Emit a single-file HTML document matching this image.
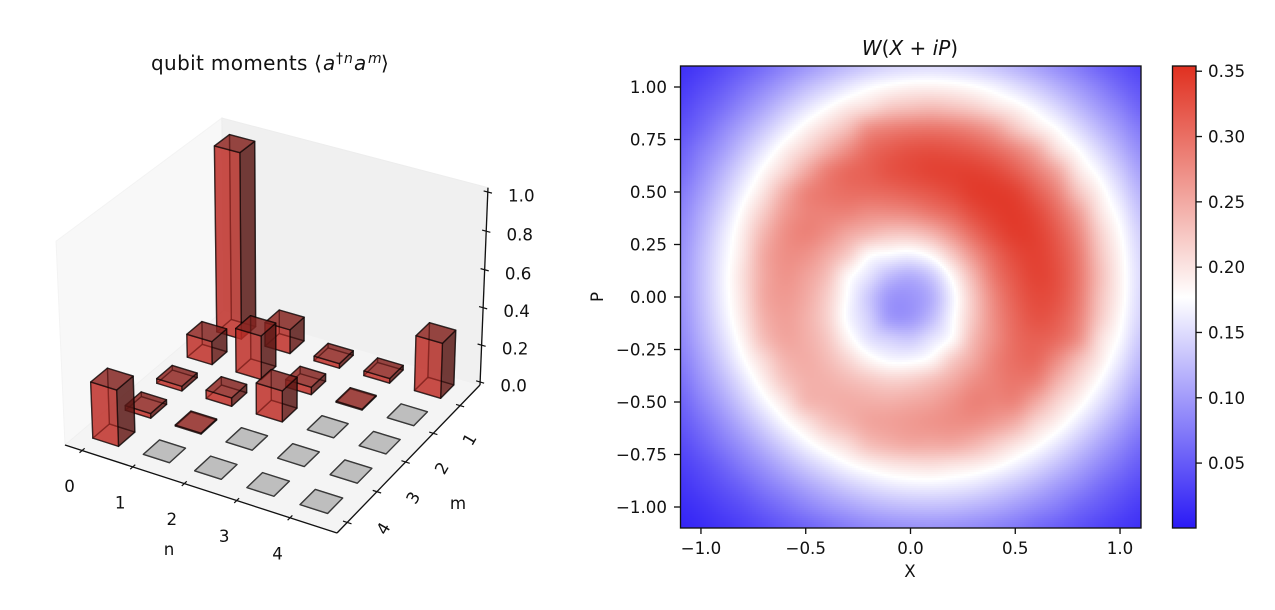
<!DOCTYPE html>
<html>
<head>
<meta charset="utf-8">
<title>Qubit moments and Wigner function</title>
<style>
html,body{margin:0;padding:0;background:#fff;}
#fig{position:absolute;left:0;top:0;display:block;}
text{font-family:"DejaVu Sans","Liberation Sans",sans-serif;font-size:16.67px;fill:#111;}
</style>
</head>
<body>
<svg id="fig" width="1275" height="610" viewBox="0 0 1275 610" xmlns="http://www.w3.org/2000/svg">
  <defs>
    <linearGradient id="cbGrad" x1="0" y1="1" x2="0" y2="0">
      <stop id="cbLow" offset="0" stop-color="rgb(42,26,245)"/>
      <stop id="cbMid" offset="0.5" stop-color="#fff"/>
      <stop id="cbHigh" offset="1" stop-color="rgb(224,48,32)"/>
    </linearGradient>
  </defs>
  <text y="70" style="font-size:20px"><tspan x="151" letter-spacing="0.35">qubit moments</tspan><tspan x="314">⟨</tspan><tspan x="323" font-style="italic">a</tspan><tspan x="336" dy="-7" style="font-size:14px">†</tspan><tspan x="344" font-style="italic" style="font-size:14px">n</tspan><tspan x="354" dy="7" font-style="italic">a</tspan><tspan x="368" dy="-7" font-style="italic" style="font-size:14px">m</tspan><tspan x="381" dy="7">⟩</tspan></text>
  <g id="plot3d"></g>
  <text x="169" y="555" text-anchor="middle">n</text>
  <text x="458" y="509" text-anchor="middle">m</text>
  <text x="910" y="55" text-anchor="middle" style="font-size:20px"><tspan font-style="italic">W</tspan>(<tspan font-style="italic">X</tspan> + <tspan font-style="italic">iP</tspan>)</text>
  <g id="heat" shape-rendering="crispEdges"></g>
  <rect x="680.5" y="66" width="460.5" height="462" fill="none" stroke="#111" stroke-width="1.33"/>
  <g id="axes2d"></g>
  <text x="910" y="577" text-anchor="middle">X</text>
  <text x="603" y="297" text-anchor="middle" transform="rotate(-90 603 297)">P</text>
  <rect id="cbRect" x="1172.5" y="66" width="23.5" height="462" fill="url(#cbGrad)" stroke="#111" stroke-width="1.33"/>
  <g id="cbAxis"></g>
</svg>
<script>
// ---------- 3D histogram data ----------
const nLabels = [0, 1, 2, 3, 4];
const mLabels = [0, 1, 2, 3, 4];
const zTicks = [0.0, 0.2, 0.4, 0.6, 0.8, 1.0];
// momentValues[n][m]
const momentValues = [
  [0.995, 0.125, 0.025, 0.025, 0.295],
  [0.130, 0.235, 0.045, 0.005, 0.000],
  [0.025, 0.040, 0.165, 0.000, 0.000],
  [0.025, 0.005, 0.000, 0.000, 0.000],
  [0.295, 0.000, 0.000, 0.000, 0.000]
];
// ---------- Wigner data: rows P from +1.1 down to -1.1, columns X from -1.1 to +1.1 ----------
const xGrid = [-1.1,-1.0,-0.9,-0.8,-0.7,-0.6,-0.5,-0.4,-0.3,-0.2,-0.1,0.0,0.1,0.2,0.3,0.4,0.5,0.6,0.7,0.8,0.9,1.0,1.1];
const pGrid = [1.1,1.0,0.9,0.8,0.7,0.6,0.5,0.4,0.3,0.2,0.1,0.0,-0.1,-0.2,-0.3,-0.4,-0.5,-0.6,-0.7,-0.8,-0.9,-1.0,-1.1];
const wignerValues = [
[.018,.026,.038,.051,.065,.081,.096,.111,.124,.135,.144,.148,.150,.147,.141,.131,.119,.105,.090,.075,.058,.045,.033],
[.025,.037,.051,.068,.086,.105,.125,.142,.159,.173,.182,.188,.189,.186,.179,.168,.153,.136,.117,.098,.079,.060,.045],
[.034,.049,.066,.087,.109,.133,.156,.177,.196,.209,.225,.232,.236,.230,.220,.204,.189,.169,.147,.123,.100,.079,.058],
[.044,.061,.084,.108,.134,.161,.187,.210,.235,.272,.285,.292,.294,.290,.279,.260,.228,.200,.177,.150,.123,.098,.075],
[.054,.076,.100,.129,.159,.189,.215,.245,.275,.303,.316,.324,.327,.324,.317,.303,.281,.251,.206,.177,.147,.117,.090],
[.063,.088,.117,.149,.182,.213,.250,.285,.304,.313,.324,.331,.337,.339,.339,.332,.314,.287,.251,.200,.169,.136,.105],
[.074,.100,.132,.167,.202,.245,.280,.294,.301,.303,.307,.314,.322,.332,.343,.345,.338,.314,.281,.228,.189,.153,.119],
[.082,.111,.145,.183,.222,.262,.282,.285,.283,.275,.275,.280,.293,.308,.329,.342,.345,.332,.303,.260,.204,.168,.131],
[.088,.119,.156,.194,.240,.272,.283,.272,.252,.237,.226,.226,.241,.270,.303,.329,.343,.339,.317,.279,.220,.179,.141],
[.092,.125,.162,.200,.250,.272,.270,.250,.221,.182,.172,.167,.184,.224,.270,.308,.332,.339,.324,.290,.230,.186,.147],
[.094,.127,.165,.205,.250,.268,.257,.232,.185,.155,.125,.115,.135,.184,.241,.293,.322,.337,.327,.294,.236,.189,.150],
[.093,.126,.164,.203,.250,.263,.250,.220,.175,.135,.098,.095,.115,.167,.226,.280,.314,.331,.324,.292,.232,.188,.148],
[.090,.122,.159,.198,.243,.258,.245,.217,.172,.140,.100,.098,.125,.172,.226,.275,.307,.324,.316,.285,.225,.182,.144],
[.085,.115,.150,.188,.232,.253,.246,.225,.187,.155,.140,.135,.155,.182,.237,.275,.303,.313,.303,.272,.209,.173,.135],
[.077,.105,.138,.174,.209,.240,.247,.235,.212,.187,.172,.172,.185,.221,.252,.283,.301,.304,.275,.235,.196,.159,.124],
[.067,.094,.123,.156,.191,.225,.243,.243,.235,.225,.217,.220,.232,.250,.272,.285,.294,.285,.245,.210,.177,.142,.111],
[.057,.081,.107,.137,.169,.200,.235,.243,.247,.246,.245,.250,.257,.270,.283,.282,.280,.250,.215,.187,.156,.125,.096],
[.048,.067,.090,.116,.144,.173,.200,.225,.240,.253,.258,.263,.268,.272,.272,.262,.245,.213,.189,.161,.133,.105,.081],
[.038,.054,.074,.095,.119,.144,.169,.191,.209,.232,.243,.250,.250,.250,.240,.222,.202,.182,.159,.134,.109,.086,.065],
[.029,.041,.057,.076,.095,.116,.137,.156,.174,.188,.198,.203,.205,.200,.194,.183,.167,.149,.129,.108,.087,.068,.051],
[.021,.031,.043,.057,.074,.090,.107,.123,.138,.150,.159,.164,.165,.162,.156,.145,.132,.117,.100,.084,.066,.051,.038],
[.014,.021,.031,.041,.054,.067,.081,.094,.105,.115,.122,.126,.127,.125,.119,.111,.100,.088,.076,.061,.049,.037,.026],
[.009,.014,.021,.029,.038,.048,.057,.067,.077,.085,.090,.093,.094,.092,.088,.082,.074,.063,.054,.044,.034,.025,.018]
];
const xTicks = [-1.0, -0.5, 0.0, 0.5, 1.0];
const yTicks = [1.00, 0.75, 0.50, 0.25, 0.00, -0.25, -0.50, -0.75, -1.00];
const colorbarTicks = [0.05, 0.10, 0.15, 0.20, 0.25, 0.30, 0.35];
const colorRange = [0.0003, 0.177, 0.354];

const SVGNS = 'http://www.w3.org/2000/svg';
function mk(parent, tag, attrs, txt) {
  const e = document.createElementNS(SVGNS, tag);
  for (const k in attrs) e.setAttribute(k, attrs[k]);
  if (txt !== undefined) e.textContent = txt;
  parent.appendChild(e);
  return e;
}
function fmt(v, d) { return v.toFixed(d).replace('-', '\u2212'); }

// ---------- 3D projection: u,v in [0,1] floor, t in [0,1] height ----------
function project(u, v, t) {
  const w = 1 - 0.04027*u - 0.08*v - 0.0368*t;
  return [(224 + 236.67*u - 164.2*v - 10.3*t)/w, (310 + 59.5*u + 99.4*v - 196.3*t)/w];
}
function zToT(z) { return 0.0157 + 0.963*z; }
function nTickU(n) { return 0.0655 + 0.192*n; }
function mTickV(m) { return 0.15 + 0.196*m; }
function nBarU(n) { return 0.1145 + 0.192*n; }
function mBarV(m) { return 0.1095 + 0.1945*m; }
const barHalf = 0.049;

const g3 = document.getElementById('plot3d');
function poly(pts) { return pts.map(p => { const q = project(p[0],p[1],p[2]); return q[0].toFixed(2)+','+q[1].toFixed(2); }).join(' '); }

const leftPane = mk(g3, 'polygon', {points: poly([[0,1,0],[0,0,0],[0,0,1],[0,1,1]]), fill:'#f8f8f8', stroke:'#f3f3f3', 'stroke-width':1});


const backPane = mk(g3, 'polygon', {points: poly([[0,0,0],[1,0,0],[1,0,1],[0,0,1]]), fill:'#f0f0f0', stroke:'#ededed', 'stroke-width':1});


const floorPane = mk(g3, 'polygon', {points: poly([[0,0,0],[1,0,0],[1,1,0],[0,1,0]]), fill:'#f4f4f4', stroke:'#f0f0f0', 'stroke-width':1});



// bars, painter order from back to front
const barOrder = [];
momentValues.forEach((row, n) => row.forEach((val, m) => barOrder.push({n: n, m: m, val: val})));
barOrder.sort((a, b) => (nBarU(a.n) + mBarV(a.m)) - (nBarU(b.n) + mBarV(b.m)));

barOrder.forEach(b => {
  const u = nBarU(b.n), v = mBarV(b.m), h = barHalf;
  const t0 = zToT(0), t1 = zToT(b.val);
  const u0 = u-h, u1 = u+h, v0 = v-h, v1 = v+h;
  const bar = mk(g3, 'g', {});
  
  
  const faceStyle = {'stroke':'#000','stroke-opacity':0.55,'stroke-width':1.4,'stroke-linejoin':'round','fill-opacity':0.6};
  let faces;
  if (b.val === 0) {
    faces = [
      [[[u0,v0,t0],[u1,v0,t0],[u1,v1,t0],[u0,v1,t0]], 'rgb(180,180,180)'],
      [[[u0,v0,t1],[u1,v0,t1],[u1,v1,t1],[u0,v1,t1]], 'rgb(180,180,180)']
    ];
  } else {
    faces = [
      [[[u0,v0,t0],[u1,v0,t0],[u1,v1,t0],[u0,v1,t0]], 'rgb(190,45,38)'],
      [[[u0,v0,t0],[u1,v0,t0],[u1,v0,t1],[u0,v0,t1]], 'rgb(145,35,30)'],
      [[[u0,v0,t0],[u0,v1,t0],[u0,v1,t1],[u0,v0,t1]], 'rgb(190,45,38)'],
      [[[u1,v0,t0],[u1,v1,t0],[u1,v1,t1],[u1,v0,t1]], 'rgb(66,18,17)'],
      [[[u0,v1,t0],[u1,v1,t0],[u1,v1,t1],[u0,v1,t1]], 'rgb(190,45,38)'],
      [[[u0,v0,t1],[u1,v0,t1],[u1,v1,t1],[u0,v1,t1]], 'rgb(125,35,32)']
    ];
  }
  faces.forEach(f => {
    const attrs = Object.assign({points: poly(f[0]), fill: f[1]}, faceStyle);
    mk(bar, 'polygon', attrs);
  });
});

// 3D axis lines
function axisLine(a, b, name) {
  const p = project(a[0],a[1],a[2]), q = project(b[0],b[1],b[2]);
  const l = mk(g3, 'line', {x1:p[0],y1:p[1],x2:q[0],y2:q[1],stroke:'#111','stroke-width':1.33});
  
  
}
axisLine([0,1,0],[1,1,0],'n-axis-line');
axisLine([1,1,0],[1,0,0],'m-axis-line');
axisLine([1,0,0],[1,0,1],'z-axis-line');

nLabels.forEach(n => {
  const u = nTickU(n);
  const p = project(u,0.985,0), q = project(u,1.015,0), c = project(u,1,0);
  const tick = mk(g3, 'line', {x1:p[0],y1:p[1],x2:q[0],y2:q[1],stroke:'#111','stroke-width':1.2});
  
  
  const lab = mk(g3, 'text', {x:c[0]-12.5, y:c[1]+41.5, 'text-anchor':'middle'}, String(n));
  
  
});
mLabels.forEach(m => {
  const v = mTickV(m);
  const p = project(0.985,v,0), q = project(1.015,v,0), c = project(1,v,0);
  const tick = mk(g3, 'line', {x1:p[0],y1:p[1],x2:q[0],y2:q[1],stroke:'#111','stroke-width':1.2});
  
  
  if (m > 0) {
    const lx = c[0]+36, ly = c[1]+6;
    const lab = mk(g3, 'text', {x:0, y:6, 'text-anchor':'middle', transform:'translate('+lx+' '+ly+') rotate(-60)'}, String(m));
    
    
  }
});
zTicks.forEach(z => {
  const t = zToT(z);
  const p = project(0.985,0,t), q = project(1.015,0,t), c = project(1,0,t);
  const tick = mk(g3, 'line', {x1:p[0],y1:p[1],x2:q[0],y2:q[1],stroke:'#111','stroke-width':1.2});
  
  
  const lab = mk(g3, 'text', {x:c[0]+33.5, y:c[1]+9.5, 'text-anchor':'middle'}, z.toFixed(1));
  
  
});

// ---------- Heatmap ----------
const plotL = 680, plotR = 1141, plotT = 66, plotB = 528;
function xPx(x) { return plotL + (x + 1.1) / 2.2 * (plotR - plotL); }
function yPx(p) { return plotT + (1.1 - p) / 2.2 * (plotB - plotT); }
function pxX(px) { return (px - plotL) / (plotR - plotL) * 2.2 - 1.1; }
function pxY(py) { return 1.1 - (py - plotT) / (plotB - plotT) * 2.2; }
function colorOf(v) {
  const lo = colorRange[0], mid = colorRange[1], hi = colorRange[2];
  let c, t;
  if (v >= mid) { t = Math.min(1, (v - mid) / (hi - mid)); c = [224,48,32]; }
  else { t = Math.min(1, (mid - v) / (mid - lo)); c = [42,26,245]; }
  return 'rgb(' + Math.round(255 + (c[0]-255)*t) + ',' + Math.round(255 + (c[1]-255)*t) + ',' + Math.round(255 + (c[2]-255)*t) + ')';
}
function cr(a, b, c, d, t) {
  return b + 0.5*t*(c - a + t*(2*a - 5*b + 4*c - d + t*(3*b - a - 3*c + d)));
}
function sample(x, p) {
  const last = xGrid.length - 1;
  const fx = (x - xGrid[0]) / (xGrid[last] - xGrid[0]) * last;
  const fy = (p - pGrid[0]) / (pGrid[last] - pGrid[0]) * last;
  const ix = Math.max(0, Math.min(last - 1, Math.floor(fx)));
  const iy = Math.max(0, Math.min(last - 1, Math.floor(fy)));
  const tx = fx - ix, ty = fy - iy;
  const cl = i => Math.max(0, Math.min(last, i));
  const rows = [];
  for (let j = -1; j <= 2; j++) {
    const r = wignerValues[cl(iy + j)];
    rows.push(cr(r[cl(ix-1)], r[cl(ix)], r[cl(ix+1)], r[cl(ix+2)], tx));
  }
  return cr(rows[0], rows[1], rows[2], rows[3], ty);
}
const heat = document.getElementById('heat');
const cellSize = 2;
for (let py = plotT; py < plotB; py += cellSize) {
  for (let px = plotL; px < plotR; px += cellSize) {
    const v = sample(pxX(px + cellSize/2), pxY(py + cellSize/2));
    const cell = mk(heat, 'rect', {x:px, y:py, width:Math.min(cellSize, plotR-px), height:Math.min(cellSize, plotB-py), fill:colorOf(v)});
    
    
  }
}

// 2D axes
const ax2 = document.getElementById('axes2d');
xTicks.forEach(x => {
  const px = xPx(x);
  const t = mk(ax2, 'line', {x1:px, y1:528, x2:px, y2:534, stroke:'#111', 'stroke-width':1.33});
  
  
  const l = mk(ax2, 'text', {x:px, y:554, 'text-anchor':'middle'}, fmt(x, 1));
  
  
});
yTicks.forEach(p => {
  const py = yPx(p);
  const t = mk(ax2, 'line', {x1:674, y1:py, x2:680, y2:py, stroke:'#111', 'stroke-width':1.33});
  
  
  const l = mk(ax2, 'text', {x:667, y:py+6, 'text-anchor':'end'}, fmt(p, 2));
  
  
});

// colorbar
function cbY(v) { return 528 - (v - colorRange[0]) / (colorRange[2] - colorRange[0]) * 462; }
document.getElementById('cbMid').setAttribute('offset', (colorRange[1]-colorRange[0])/(colorRange[2]-colorRange[0]));
const cbAxis = document.getElementById('cbAxis');
colorbarTicks.forEach(v => {
  const y = cbY(v);
  const t = mk(cbAxis, 'line', {x1:1196, y1:y, x2:1202, y2:y, stroke:'#111', 'stroke-width':1.33});
  
  
  const l = mk(cbAxis, 'text', {x:1208, y:y+6}, v.toFixed(2));
  
  
});
</script>
</body>
</html>
